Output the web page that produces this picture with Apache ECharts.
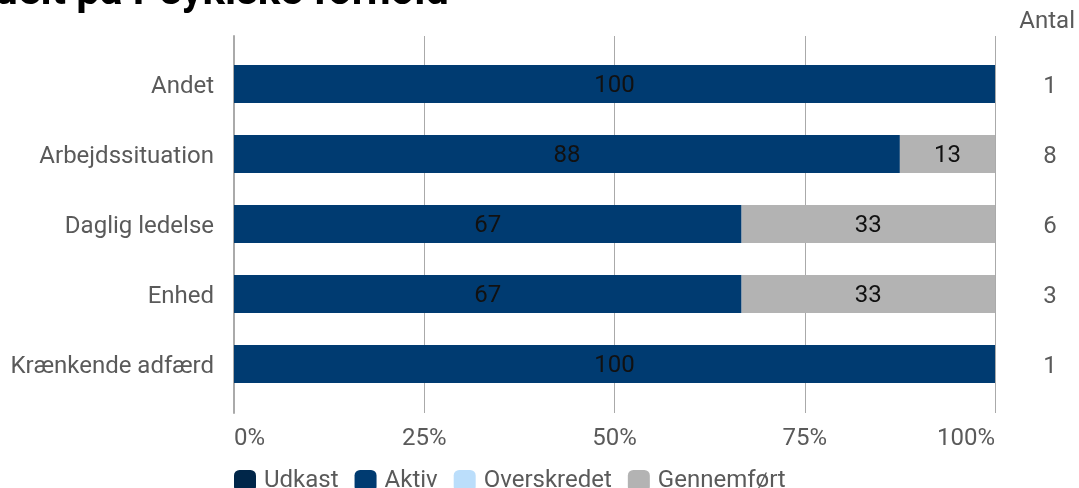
<!DOCTYPE html>
<html>
<head>
<meta charset="utf-8">
<script src="https://cdn.jsdelivr.net/npm/echarts@6/dist/echarts.min.js"></script>
<style>
  html, body { margin: 0; padding: 0; background: #fff; }
  #main { width: 1079px; height: 488px; }
</style>
</head>
<body>
<div id="main"></div>
<script>
var categories = ['Andet', 'Arbejdssituation', 'Daglig ledelse', 'Enhed', 'Krænkende adfærd'];
var antal = [1, 8, 6, 3, 1];
// procent pr. status
var udkast = [0, 0, 0, 0, 0];
var aktiv = [100, 87.5, 66.7, 66.7, 100];
var overskredet = [0, 0, 0, 0, 0];
var gennemfoert = [0, 12.5, 33.3, 33.3, 0];
var xTicks = ['0%', '25%', '50%', '75%', '100%'];

var dom = document.getElementById('main');
var myChart = echarts.init(dom);

var fontFam = 'Roboto, "Noto Sans", sans-serif';
var grey = '#5a5a5a';

function barLabel(p) {
    return p.value > 0 ? Math.round(p.value) : '';
}

function mkSeries(name, data, color) {
    return {
        name: name,
        type: 'bar',
        stack: 'total',
        xAxisIndex: 1,
        yAxisIndex: 1,
        barWidth: 38,
        data: data,
        itemStyle: { color: color },
        label: {
            show: true,
            position: 'inside',
            offset: [0, 2],
            color: '#111',
            fontSize: 24,
            fontFamily: fontFam,
            formatter: barLabel
        }
    };
}

// kategori-labels lidt ned, som i originalen
var catLabel = {
    fontSize: 24,
    color: grey,
    fontFamily: fontFam,
    formatter: function (v) { return '{v|' + v + '}'; },
    rich: { v: { fontSize: 24, color: grey, fontFamily: fontFam, padding: [6, 0, 0, 0] } }
};

var option = {
    animation: false,
    title: [{
        text: 'Sager fordelt på Psykiske forhold',
        right: 625,
        top: -33,
        textStyle: { fontSize: 42, fontWeight: 'bold', color: '#000', fontFamily: fontFam }
    }, {
        text: 'Antal',
        right: 4,
        top: 10,
        padding: 0,
        textStyle: { fontSize: 24, fontWeight: 'normal', color: grey, fontFamily: fontFam }
    }],
    legend: {
        left: 229,
        top: 464,
        itemWidth: 22,
        itemHeight: 22,
        itemGap: 16,
        icon: 'roundRect',
        textStyle: { fontSize: 24, color: grey, fontFamily: fontFam, padding: [0, 0, 0, 3] },
        data: ['Udkast', 'Aktiv', 'Overskredet', 'Gennemført']
    },
    grid: [
        { left: 234, right: 84, top: 36, bottom: 75 },
        { left: 234, right: 84, top: 49, bottom: 89 }
    ],
    xAxis: [{
        type: 'value',
        gridIndex: 0,
        min: 0,
        max: 100,
        interval: 25,
        axisLine: { show: false },
        axisTick: { show: false },
        splitLine: { lineStyle: { color: '#aaa', width: 1 } },
        axisLabel: {
            margin: 14,
            fontSize: 24,
            color: grey,
            fontFamily: fontFam,
            alignMinLabel: 'left',
            alignMaxLabel: 'right',
            formatter: function (v) { return xTicks[v / 25]; }
        }
    }, {
        type: 'value',
        gridIndex: 1,
        min: 0,
        max: 100,
        show: false
    }],
    yAxis: [{
        type: 'category',
        gridIndex: 0,
        data: categories,
        axisLine: { show: true, lineStyle: { color: '#aaa', width: 2 } },
        axisTick: { show: false },
        axisLabel: { show: false }
    }, {
        type: 'category',
        gridIndex: 1,
        data: categories,
        inverse: true,
        axisLine: { show: false },
        axisTick: { show: false },
        axisLabel: Object.assign({ margin: 20 }, catLabel)
    }, {
        type: 'category',
        gridIndex: 1,
        position: 'right',
        data: antal,
        inverse: true,
        axisLine: { show: false },
        axisTick: { show: false },
        axisLabel: Object.assign({ margin: 55, align: 'center' }, catLabel)
    }],
    series: [
        mkSeries('Udkast', udkast, '#002649'),
        mkSeries('Aktiv', aktiv, '#003b71'),
        mkSeries('Overskredet', overskredet, '#bbdefb'),
        mkSeries('Gennemført', gennemfoert, '#b3b3b3')
    ]
};

myChart.setOption(option);
</script>
</body>
</html>
